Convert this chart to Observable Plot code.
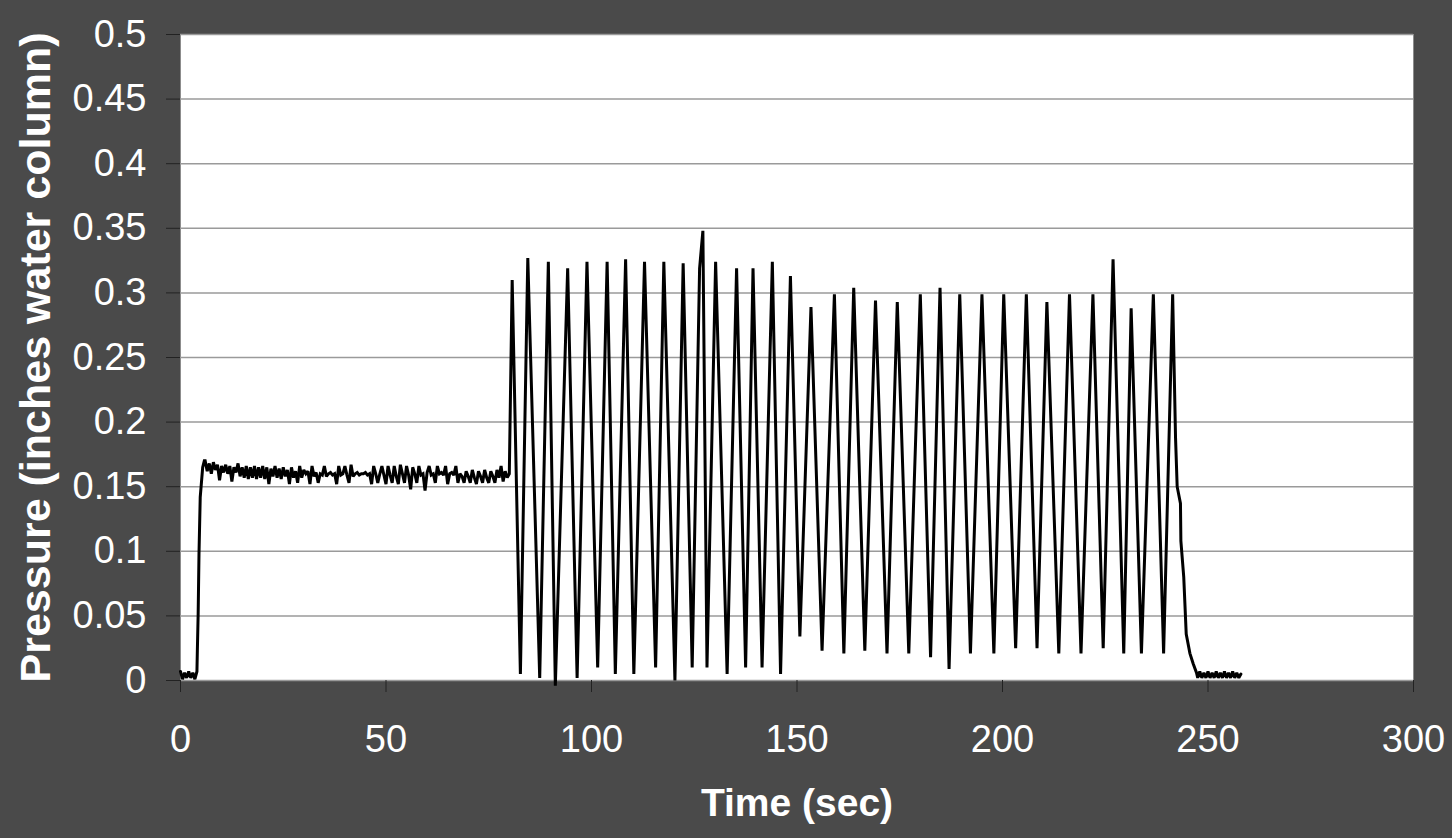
<!DOCTYPE html>
<html>
<head>
<meta charset="utf-8">
<script src="https://cdn.jsdelivr.net/npm/d3@7"></script>
<script src="https://cdn.jsdelivr.net/npm/@observablehq/plot@0.6"></script>
<style>
  html, body { margin: 0; padding: 0; background: #4a4a4a; }
  #chart svg { display: block; }
</style>
</head>
<body>
<div id="chart"></div>
<script>
// ---- Axis ticks and labels ----
const yTicks = [0, 0.05, 0.1, 0.15, 0.2, 0.25, 0.3, 0.35, 0.4, 0.45, 0.5];
const yTickLabels = ["0", "0.05", "0.1", "0.15", "0.2", "0.25", "0.3", "0.35", "0.4", "0.45", "0.5"];
const xTicks = [0, 50, 100, 150, 200, 250, 300];
const xTickLabels = ["0", "50", "100", "150", "200", "250", "300"];
const xTitle = "Time (sec)";
const yTitle = "Pressure (inches water column)";

// ---- Series: start (flat at zero, then rise) ----
const startTimes  = [0, 0.5, 1, 1.5, 2, 2.5, 3, 3.5, 4, 4.1, 4.3, 4.5, 4.8, 5.4, 5.8];
const startValues = [0.007, 0.001, 0.006, 0.002, 0.007, 0.002, 0.006, 0.001, 0.007, 0.023, 0.052, 0.098, 0.142, 0.165, 0.170];

// ---- Series: steady plateau (sampled every 0.5 s from 6 s to 80 s) ----
const plateauStart = 6;
const plateauStep = 0.5;
const plateauValues = [
  0.170, 0.162, 0.168, 0.160, 0.169, 0.163, 0.167, 0.155, 0.166,
  0.161, 0.167, 0.160, 0.166, 0.154, 0.165, 0.161, 0.168, 0.158, 0.165,
  0.157, 0.166, 0.156, 0.165, 0.157, 0.166, 0.156, 0.165, 0.157, 0.166,
  0.156, 0.165, 0.152, 0.164, 0.158, 0.166, 0.157, 0.164, 0.156, 0.165,
  0.158, 0.163, 0.152, 0.165, 0.157, 0.162, 0.153, 0.166, 0.157, 0.163,
  0.160, 0.162, 0.152, 0.166, 0.158, 0.161, 0.153, 0.160, 0.159, 0.166,
  0.158, 0.160, 0.161, 0.159, 0.160, 0.152, 0.166, 0.159, 0.160, 0.166,
  0.159, 0.153, 0.167, 0.158, 0.160, 0.161, 0.159, 0.160, 0.160, 0.161,
  0.159, 0.160, 0.152, 0.166, 0.160, 0.153, 0.160, 0.166, 0.159, 0.152,
  0.166, 0.159, 0.153, 0.166, 0.158, 0.152, 0.167, 0.160, 0.153, 0.166,
  0.159, 0.148, 0.165, 0.160, 0.153, 0.166, 0.159, 0.160, 0.147, 0.161,
  0.166, 0.159, 0.160, 0.153, 0.166, 0.160, 0.161, 0.159, 0.166, 0.152,
  0.160, 0.161, 0.159, 0.166, 0.153, 0.160, 0.158, 0.153, 0.162, 0.158,
  0.153, 0.163, 0.157, 0.152, 0.162, 0.158, 0.153, 0.163, 0.157, 0.153,
  0.162, 0.158, 0.153, 0.163, 0.157, 0.166, 0.154, 0.162, 0.157, 0.160
];

// ---- Series: oscillation peaks ----
const peakTimes = [80.7, 84.5, 89.5, 94.2, 98.9, 103.8, 108.3, 112.9, 117.6, 122.3,
  126.3, 130.2, 135.3, 139.3, 144.0, 148.4, 153.4, 159.1, 163.8, 169.1,
  174.4, 180.0, 184.8, 189.6, 195.0, 200.3, 205.8, 210.8, 216.3, 222.0,
  226.9, 231.3, 236.7, 241.4];
const peakValues = [0.310, 0.327, 0.324, 0.319, 0.324, 0.324, 0.326, 0.324, 0.324, 0.323,
  0.319, 0.324, 0.319, 0.319, 0.324, 0.313, 0.289, 0.299, 0.304, 0.294,
  0.293, 0.299, 0.304, 0.299, 0.299, 0.299, 0.299, 0.293, 0.299, 0.299,
  0.326, 0.288, 0.299, 0.299];

// ---- Series: oscillation troughs ----
const troughTimes = [82.7, 87.4, 91.2, 96.5, 101.5, 105.8, 110.3, 115.6, 120.3, 124.5,
  128.1, 133.0, 137.5, 141.5, 146.0, 150.7, 156.1, 161.4, 166.5, 171.9,
  177.2, 182.5, 187.0, 192.2, 197.9, 203.2, 208.4, 213.7, 219.1, 224.5,
  229.5, 233.8, 239.2];
const troughValues = [0.005, 0.002, -0.004, 0.002, 0.010, 0.005, 0.005, 0.010, 0.000, 0.010,
  0.010, 0.005, 0.010, 0.010, 0.005, 0.034, 0.023, 0.021, 0.023, 0.021,
  0.021, 0.018, 0.009, 0.021, 0.021, 0.025, 0.025, 0.021, 0.021, 0.025,
  0.021, 0.021, 0.021];

// ---- Series: isolated spikes ----
const spikeTimes = [127.1];
const spikeValues = [0.348];

// ---- Series: decay after the last cycle ----
const decayTimes  = [242.1, 242.5, 243.3, 243.4, 244.1, 244.7, 245.6, 246.4, 247.2];
const decayValues = [0.188, 0.150, 0.137, 0.108, 0.080, 0.036, 0.021, 0.013, 0.006];

// ---- Series: flat end (sampled every 0.5 s from 247.5 s) ----
const endStart = 247.5;
const endStep = 0.5;
const endValues = [0.002, 0.007, 0.002, 0.006, 0.002, 0.007, 0.002, 0.006, 0.002, 0.007, 0.002,
  0.006, 0.002, 0.007, 0.002, 0.006, 0.002, 0.007, 0.002, 0.006, 0.002, 0.005];

// ---- Build one sorted series ----
const series = [];
startTimes.forEach((t, i) => series.push({t, v: startValues[i]}));
plateauValues.forEach((v, i) => series.push({t: plateauStart + i * plateauStep, v}));
peakTimes.forEach((t, i) => series.push({t, v: peakValues[i]}));
troughTimes.forEach((t, i) => series.push({t, v: troughValues[i]}));
spikeTimes.forEach((t, i) => series.push({t, v: spikeValues[i]}));
decayTimes.forEach((t, i) => series.push({t, v: decayValues[i]}));
endValues.forEach((v, i) => series.push({t: endStart + i * endStep, v}));
series.sort((a, b) => a.t - b.t);

const font = "'Liberation Sans', Arial, Helvetica, sans-serif";

const chart = Plot.plot({
  width: 1452,
  height: 838,
  marginLeft: 180,
  marginRight: 39,
  marginTop: 34,
  marginBottom: 158,
  x: {domain: [0, 300]},
  y: {domain: [0, 0.5]},
  style: {background: "#4a4a4a", color: "white", fontFamily: font, overflow: "visible"},
  marks: [
    Plot.frame({fill: "white", stroke: "#8c8c8c"}),
    Plot.gridY(yTicks, {stroke: "#9a9a9a", strokeOpacity: 1, strokeWidth: 1.5}),
    Plot.axisY(yTicks, {
      tickSize: 14, tickPadding: 20, fontSize: 38,
      stroke: "#222", fill: "white",
      tickFormat: d => yTickLabels[yTicks.indexOf(d)],
      label: null
    }),
    Plot.axisX(xTicks, {
      tickSize: 12, tickPadding: 33, fontSize: 38,
      stroke: "#222", fill: "white",
      tickFormat: d => xTickLabels[xTicks.indexOf(d)],
      label: null
    }),
    Plot.line(series, {x: "t", y: "v", stroke: "black", strokeWidth: 3, strokeLinejoin: "miter", strokeMiterlimit: 2}),
    Plot.text([xTitle], {text: d => d, frameAnchor: "bottom", textAnchor: "middle", dy: 135, fontSize: 39, fontWeight: "bold", fill: "white"}),
    Plot.text([yTitle], {text: d => d, frameAnchor: "left", textAnchor: "middle", dx: -144, rotate: -90, fontSize: 43, fontWeight: "bold", fill: "white"})
  ]
});
document.getElementById("chart").appendChild(chart);
</script>
</body>
</html>
